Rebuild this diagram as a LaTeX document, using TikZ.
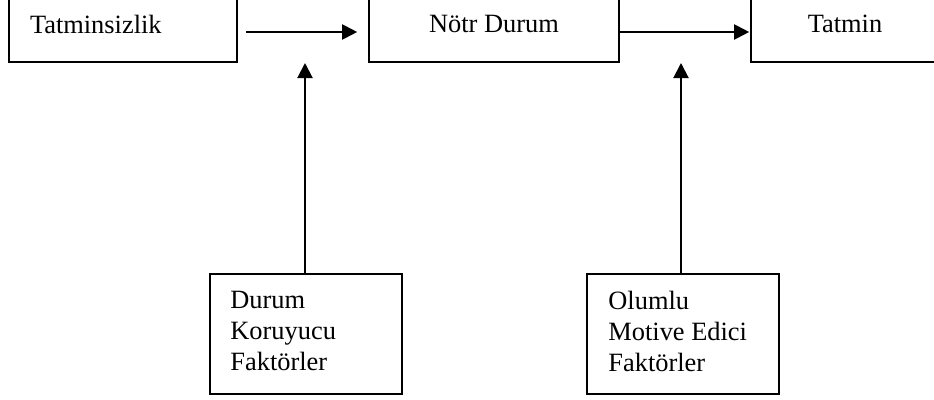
\documentclass[tikz,border=0pt]{standalone}
\usepackage{fontspec}
\setmainfont{Liberation Serif}
\usetikzlibrary{arrows.meta,calc}
\begin{document}
\begin{tikzpicture}[x=1pt,y=-1pt,
  txt/.style={font=\fontsize{26.4}{31}\selectfont},
  topbox/.style={draw, line width=1.6pt, minimum height=76pt, inner ysep=0pt, txt},
  basebox/.style={draw, line width=1.6pt, minimum width=192pt, minimum height=120pt},
  flow/.style={line width=2pt, -{Triangle[length=15pt,width=15pt]}}
]
\path[use as bounding box, clip] (0,0) rectangle (934,399);

% states along the top row
\node[topbox, minimum width=228pt, text width=186pt, inner xsep=21pt, align=left] (dis) at (123,24) {Tatminsizlik};
\node[topbox, minimum width=250pt] (neu) at (494,24) {Nötr Durum};
\node[topbox, minimum width=188pt] (sat) at (845,24) {Tatmin};

% factor boxes below
\node[basebox] (hyg) at (306,334) {};
\node[basebox] (mot) at (683,334) {};
\node[txt, anchor=north west, inner sep=0pt, align=left] (hygt) at ($(hyg.north west)+(21,17.5)$) {Durum\\Koruyucu\\Faktörler};
\node[txt, anchor=north west, inner sep=0pt, align=left] (mott) at ($(mot.north west)+(22,17.5)$) {Olumlu\\Motive Edici\\Faktörler};

% transitions
\draw[flow] ($(dis.east)+(8,8)$) -- ($(neu.west)+(-11,8)$);
\draw[flow] ($(neu.east)+(0,8)$) -- ($(sat.west)+(-1,8)$);

% influences from the factors
\coordinate (hygtip) at (305,63);
\coordinate (mottip) at (681,63);
\draw[flow] (hyg.north -| hygtip) -- (hygtip);
\draw[flow] (mot.north -| mottip) -- (mottip);
\end{tikzpicture}
\end{document}
